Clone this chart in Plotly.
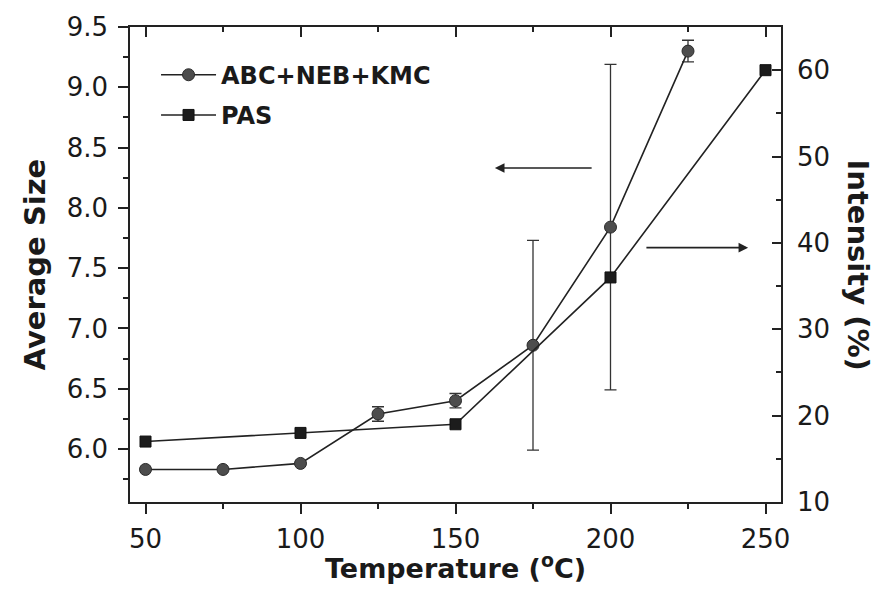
import plotly.graph_objects as go

# ---- data ----
temp_sim = [50, 75, 100, 125, 150, 175, 200, 225]
size_sim = [5.83, 5.83, 5.88, 6.29, 6.40, 6.86, 7.84, 9.30]
size_err = [0.0, 0.0, 0.0, 0.06, 0.06, 0.87, 1.35, 0.09]

temp_pas = [50, 100, 150, 200, 250]
intensity_pas = [17, 18, 19, 36, 60]

x_range = [45, 255]
y_left_range = [5.56, 9.5]
y_right_range = [10, 65]

# arrow annotations (tail -> head), in data units
arrow_left = dict(tail=(194.4, 8.33), head=(162.7, 8.33))
arrow_right = dict(tail=(211.1, 39.45), head=(244.4, 39.45))

FONT = "DejaVu Sans"
LINE_C = "#222222"

fig = go.Figure()

fig.add_trace(go.Scatter(
    x=temp_sim, y=size_sim, name="ABC+NEB+KMC", mode="lines+markers",
    legendgroup="sim",
    line=dict(color=LINE_C, width=1.6),
    marker=dict(symbol="circle", size=12, color="#4d4d4d",
                line=dict(color="#2a2a2a", width=1)),
    error_y=dict(type="data", array=size_err, visible=True,
                 color="#333333", thickness=1.3, width=6),
    xaxis="x", yaxis="y",
))

fig.add_trace(go.Scatter(
    x=temp_pas, y=intensity_pas, name="PAS", mode="lines+markers",
    legendgroup="pas",
    line=dict(color=LINE_C, width=1.6),
    marker=dict(symbol="square", size=11, color="#1c1c1c",
                line=dict(color="#111111", width=1)),
    xaxis="x", yaxis="y2",
))

# invisible trace to activate the top axis
fig.add_trace(go.Scatter(
    x=x_range, y=y_left_range, mode="markers", marker=dict(opacity=0),
    showlegend=False, hoverinfo="skip", xaxis="x2", yaxis="y",
))

tick_font = dict(family=FONT, size=26, color="#1a1a1a")

fig.update_layout(
    width=880, height=597,
    margin=dict(l=130, r=99, t=20, b=95),
    paper_bgcolor="white", plot_bgcolor="white",
    font=dict(family=FONT, color="#1a1a1a"),
    showlegend=True,
    legend=dict(
        x=0.04, y=0.946, xanchor="left", yanchor="top",
        bgcolor="rgba(0,0,0,0)",
        font=dict(family=FONT, size=24, color="#1a1a1a", weight="bold"),
        itemwidth=55, tracegroupgap=6,
    ),
    xaxis=dict(
        range=x_range, dtick=50, tick0=0,
        showline=True, linecolor="#222", linewidth=1.5,
        ticks="outside", ticklen=10, tickwidth=1.5, tickcolor="#222",
        minor=dict(dtick=25, tick0=0, ticks="outside", ticklen=5,
                   tickwidth=1.5, tickcolor="#222"),
        showgrid=False, zeroline=False,
        tickfont=tick_font, ticklabelstandoff=3,
    ),
    xaxis2=dict(
        range=x_range, dtick=50, tick0=0, overlaying="x", side="top",
        showline=True, linecolor="#222", linewidth=1.5,
        ticks="inside", ticklen=10, tickwidth=1.5, tickcolor="#222",
        minor=dict(dtick=25, tick0=0, ticks="inside", ticklen=5,
                   tickwidth=1.5, tickcolor="#222"),
        showticklabels=False, showgrid=False, zeroline=False,
    ),
    yaxis=dict(
        range=y_left_range, dtick=0.5, tick0=0, tickformat=".1f",
        showline=True, linecolor="#222", linewidth=1.5,
        ticks="outside", ticklen=10, tickwidth=1.5, tickcolor="#222",
        minor=dict(dtick=0.25, tick0=0, ticks="outside", ticklen=5,
                   tickwidth=1.5, tickcolor="#222"),
        showgrid=False, zeroline=False,
        tickfont=tick_font, ticklabelstandoff=5,
    ),
    yaxis2=dict(
        range=y_right_range, dtick=10, tick0=0, overlaying="y", side="right",
        showline=True, linecolor="#222", linewidth=1.5,
        ticks="inside", ticklen=9, tickwidth=1.5, tickcolor="#222",
        minor=dict(dtick=5, tick0=0, ticks="inside", ticklen=5,
                   tickwidth=1.5, tickcolor="#222"),
        showgrid=False, zeroline=False,
        tickfont=tick_font, ticklabelstandoff=9,
    ),
)

title_font = dict(family=FONT, size=29, color="#1a1a1a", weight="bold")

fig.add_annotation(
    text="Average Size", xref="paper", yref="paper", x=0, y=0.5,
    xshift=-96, textangle=-90, showarrow=False, font=title_font,
    xanchor="center", yanchor="middle",
)
fig.add_annotation(
    text="Intensity (%)", xref="paper", yref="paper", x=1, y=0.5,
    xshift=77, textangle=90, showarrow=False, font=title_font,
    xanchor="center", yanchor="middle",
)
fig.add_annotation(
    text="Temperature (<sup>o</sup>C)", xref="paper", yref="paper",
    x=0.5, y=0, yshift=-64, showarrow=False,
    font=dict(family=FONT, size=27, color="#1a1a1a", weight="bold"),
    xanchor="center", yanchor="middle",
)

for arr, yref in ((arrow_left, "y"), (arrow_right, "y2")):
    fig.add_annotation(
        x=arr["head"][0], y=arr["head"][1], ax=arr["tail"][0], ay=arr["tail"][1],
        xref="x", yref=yref, axref="x", ayref=yref,
        showarrow=True, arrowhead=2, arrowsize=1.2, arrowwidth=1.6,
        arrowcolor="#222", text="",
    )

fig.write_html("out.html")
